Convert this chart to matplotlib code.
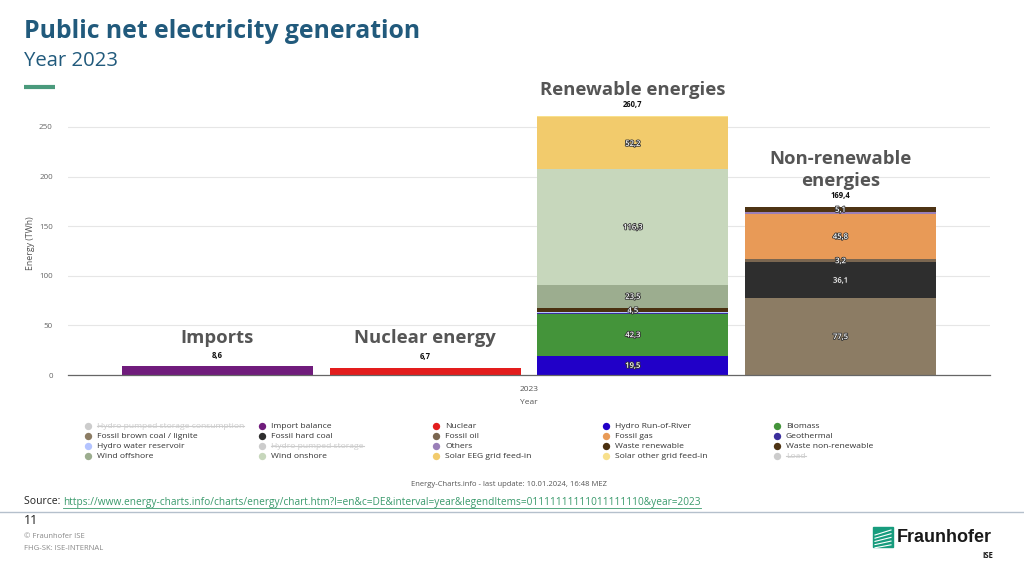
import matplotlib
matplotlib.use("Agg")
import matplotlib.pyplot as plt
import matplotlib.patheffects as pe
import numpy as np

# bar groups (x positions inside the single "2023" category)
groups = ["Imports", "Nuclear energy", "Renewable energies", "Non-renewable\nenergies"]
totals = [8.6, 6.7, 260.7, 169.4]

# series in stacking order (bottom -> top), value per group
series = [
    ("Import balance",        "#701c7c", [8.6, 0, 0, 0]),
    ("Nuclear",               "#e31d1d", [0, 6.7, 0, 0]),
    ("Hydro Run-of-River",    "#2100c8", [0, 0, 19.5, 0]),
    ("Biomass",               "#44943a", [0, 0, 42.3, 0]),
    ("Fossil brown coal / lignite", "#8c7c64", [0, 0, 0, 77.5]),
    ("Fossil hard coal",      "#2e2e2e", [0, 0, 0, 36.1]),
    ("Fossil oil",            "#7a6650", [0, 0, 0, 3.2]),
    ("Fossil gas",            "#e89a57", [0, 0, 0, 45.8]),
    ("Geothermal",            "#3b2e9c", [0, 0, 0.2, 0]),
    ("Hydro water reservoir", "#b4c4ff", [0, 0, 1.0, 0]),
    ("Others",                "#9a7fb8", [0, 0, 0, 1.7]),
    ("Waste renewable",       "#4a3010", [0, 0, 4.5, 0]),
    ("Waste non-renewable",   "#4e3414", [0, 0, 0, 5.1]),
    ("Wind offshore",         "#9cad8f", [0, 0, 23.5, 0]),
    ("Wind onshore",          "#c7d7bc", [0, 0, 116.3, 0]),
    ("Solar EEG grid feed-in", "#f2cb6c", [0, 0, 52.2, 0]),
    ("Solar other grid feed-in", "#f8e08c", [0, 0, 1.2, 0]),
]

# legend layout, row by row, 5 columns
legend_items = [
    ("Hydro pumped storage consumption", "#cccccc", True),
    ("Import balance", "#701c7c", False),
    ("Nuclear", "#e31d1d", False),
    ("Hydro Run-of-River", "#2100c8", False),
    ("Biomass", "#44943a", False),
    ("Fossil brown coal / lignite", "#8c7c64", False),
    ("Fossil hard coal", "#2e2e2e", False),
    ("Fossil oil", "#7a6650", False),
    ("Fossil gas", "#e89a57", False),
    ("Geothermal", "#3b2e9c", False),
    ("Hydro water reservoir", "#b4c4ff", False),
    ("Hydro pumped storage", "#cccccc", True),
    ("Others", "#9a7fb8", False),
    ("Waste renewable", "#4a3010", False),
    ("Waste non-renewable", "#4e3414", False),
    ("Wind offshore", "#9cad8f", False),
    ("Wind onshore", "#c7d7bc", False),
    ("Solar EEG grid feed-in", "#f2cb6c", False),
    ("Solar other grid feed-in", "#f8e08c", False),
    ("Load", "#cccccc", True),
]

yticks = [0, 50, 100, 150, 200, 250]

W, H = 1024, 565
fig = plt.figure(figsize=(W / 100, H / 100), dpi=100)
plt.rcParams['font.family'] = ['Open Sans', 'DejaVu Sans']

# main chart axes, placed by pixel positions
ax_l, ax_r, ax_b, ax_t = 68, 990, 375, 112
ax = fig.add_axes([ax_l / W, 1 - ax_b / H, (ax_r - ax_l) / W, (ax_b - ax_t) / H])
x = np.arange(len(groups))
bottom = np.zeros(len(groups))

for name, color, vals in series:
    vals = np.array(vals, dtype=float)
    ax.bar(x, vals, 0.92, bottom=bottom, color=color, linewidth=0, zorder=3)
    for i, v in enumerate(vals):
        if v >= 2 and i >= 2:
            ax.text(x[i], bottom[i] + v / 2, f"{v:.1f}".replace(".", ","),
                    ha="center", va="center", fontsize=5.5, color="white",
                    fontweight="semibold", zorder=5,
                    path_effects=[pe.withStroke(linewidth=1.2, foreground="#333333")])
    bottom += vals

for i, t in enumerate(totals):
    ax.text(x[i], t + 7, f"{t:.1f}".replace(".", ","), ha="center", va="bottom",
            fontsize=5.5, fontweight="bold", color="#111111", zorder=5)

ax.set_xlim(-0.72, 3.72)
ax.set_ylim(0, 265)
ax.set_yticks(yticks)
ax.set_yticklabels([str(v) for v in yticks], fontsize=5.8, color="#666666")
ax.grid(axis="y", color="#e6e6e6", linewidth=0.8, zorder=0)
ax.set_xticks([1.5])
ax.set_xticklabels(["2023"], fontsize=6, color="#555555")
ax.tick_params(axis="both", length=0, pad=8)
ax.tick_params(axis="y", pad=11)
for s in ["top", "right", "left"]:
    ax.spines[s].set_visible(False)
ax.spines["bottom"].set_color("#666666")
ax.spines["bottom"].set_linewidth(0.9)
ax.spines["bottom"].set_zorder(6)
ax.set_ylabel("Energy (TWh)", fontsize=6.3, color="#555555", labelpad=3)
ax.set_xlabel("Year", fontsize=6, color="#555555", labelpad=4)

# group captions
cap_y = [338, 338, 90, 170]
for i, g in enumerate(groups):
    px = ax_l + (x[i] + 0.72) / 4.44 * (ax_r - ax_l)
    fig.text(px / W, 1 - cap_y[i] / H, g, ha="center", va="center",
             fontsize=13.3, fontweight="bold", color="#555555", linespacing=1.3)

# overlay in pixel coords for slide decorations
ov = fig.add_axes([0, 0, 1, 1], zorder=-1)
ov.set_xlim(0, W)
ov.set_ylim(H, 0)
ov.axis("off")

fig.text(24 / W, 1 - 31 / H, "Public net electricity generation", fontsize=17.8,
         fontweight="bold", color="#215a7c", va="center")
fig.text(24 / W, 1 - 61 / H, "Year 2023", fontsize=14.6, color="#215a7c", va="center")
ov.plot([24, 55], [87, 87], color="#4a9a7c", linewidth=3, solid_capstyle="butt")

# legend
col_x = [88, 262, 436, 606, 777]
row_y = [426, 436, 446, 456]
leg_texts = []
for k, (name, color, hidden) in enumerate(legend_items):
    r, c = divmod(k, 5)
    ov.scatter([col_x[c]], [row_y[r]], s=28, color=color, zorder=3, linewidths=0)
    t = ov.text(col_x[c] + 9, row_y[r], name, fontsize=6.1, va="center",
                color="#cccccc" if hidden else "#333333")
    leg_texts.append((t, hidden))

fig.canvas.draw()
rend = fig.canvas.get_renderer()
for t, hidden in leg_texts:
    if hidden:
        bb = t.get_window_extent(rend)
        yy = H - (bb.y0 + bb.y1) / 2
        ov.plot([bb.x0, bb.x1], [yy, yy], color="#cccccc", linewidth=0.8)

fig.text(509 / W, 1 - 484 / H, "Energy-Charts.info - last update: 10.01.2024, 16:48 MEZ",
         fontsize=5.5, color="#555555", ha="center", va="center")

src = ov.text(24, 502, "Source: ", fontsize=7.5, color="#222222", va="center")
fig.canvas.draw()
bb = src.get_window_extent(fig.canvas.get_renderer())
url = ov.text(bb.x1, 502,
              "https://www.energy-charts.info/charts/energy/chart.htm?l=en&c=DE&interval=year&legendItems=01111111111011111110&year=2023",
              fontsize=7.3, color="#3a9a6c", va="center")
fig.canvas.draw()
ub = url.get_window_extent(fig.canvas.get_renderer())
ov.plot([ub.x0, ub.x1], [508, 508], color="#3a9a6c", linewidth=0.6)

ov.plot([0, W], [512, 512], color="#b5c0cc", linewidth=1)
ov.text(24, 521, "11", fontsize=9, color="#222222", va="center")
ov.text(24, 537, "© Fraunhofer ISE", fontsize=5.5, color="#888888", va="center")
ov.text(24, 548, "FHG-SK: ISE-INTERNAL", fontsize=5.5, color="#888888", va="center")

# Fraunhofer logo
ov.add_patch(plt.Rectangle((873, 527), 20, 20, color="#179c7d", zorder=2))
for k in range(5):
    yy = 531 + k * 3.2
    ov.plot([875, 891], [yy + 4, yy - 1 + k * 0.5], color="white", linewidth=0.8, zorder=3)
ov.text(897, 538, "Fraunhofer", fontsize=13, fontweight="bold", color="#1a1a1a",
        va="center", family=["Liberation Sans", "DejaVu Sans"])
ov.text(993, 556, "ISE", fontsize=5.5, fontweight="bold", color="#1a1a1a",
        va="center", ha="right")

fig.savefig("out.png", dpi=100)
